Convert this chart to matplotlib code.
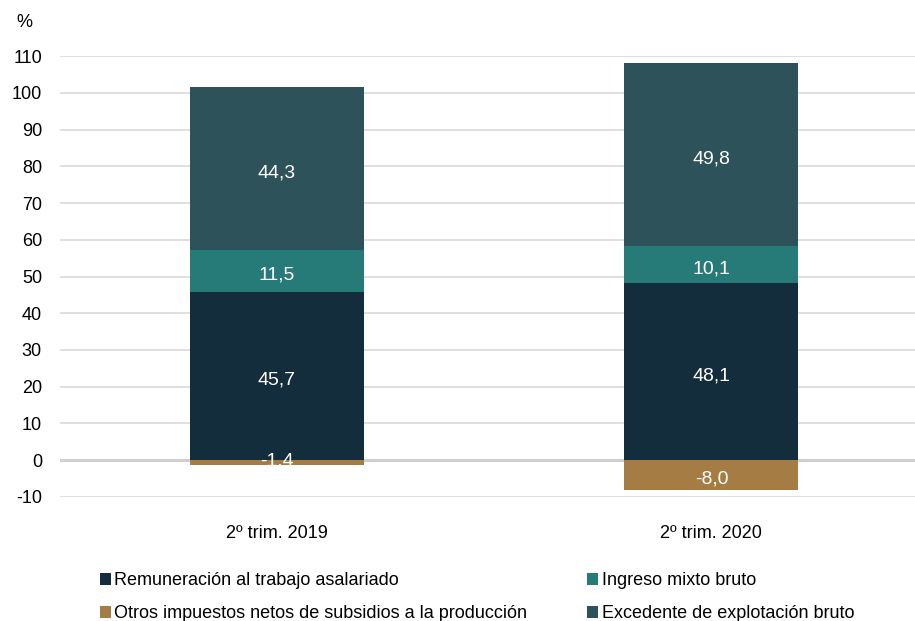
import matplotlib.pyplot as plt
import numpy as np

plt.rcParams['font.family'] = ['Liberation Sans', 'DejaVu Sans']

categories = ['2º trim. 2019', '2º trim. 2020']
remuneracion = [45.7, 48.1]
ingreso_mixto = [11.5, 10.1]
otros_impuestos = [-1.4, -8.0]
excedente = [44.3, 49.8]
yticks = list(range(-10, 111, 10))

c_rem = '#132d3c'
c_ing = '#267a78'
c_otr = '#a67c45'
c_exc = '#2d525a'

fig = plt.figure(figsize=(9.15, 6.21), dpi=100)
ax = fig.add_axes([0.0656, 0.1997, 0.96, 0.7101])

x = np.arange(len(categories))
w = 0.40

rem = np.array(remuneracion)
ing = np.array(ingreso_mixto)
exc = np.array(excedente)
otr = np.array(otros_impuestos)

b_rem = ax.bar(x, rem, w, color=c_rem, zorder=2, label='Remuneración al trabajo asalariado')
b_ing = ax.bar(x, ing, w, bottom=rem, color=c_ing, zorder=2, label='Ingreso mixto bruto')
b_exc = ax.bar(x, exc, w, bottom=rem + ing, color=c_exc, zorder=2, label='Excedente de explotación bruto')
b_otr = ax.bar(x, otr, w, color=c_otr, zorder=2, label='Otros impuestos netos de subsidios a la producción')

def fmt(v):
    return f'{v:.1f}'.replace('.', ',')

def label(xv, yv, v):
    # tiny segments: label sits on the zero line like the original
    dy = -3 if abs(v) > 2 else 1
    ax.annotate(fmt(v), (xv, yv), xytext=(0, dy), textcoords='offset points',
                ha='center', va='center', color='white', fontsize=14, zorder=4)

for i in range(len(x)):
    label(x[i], rem[i] / 2, rem[i])
    label(x[i], rem[i] + ing[i] / 2, ing[i])
    label(x[i], rem[i] + ing[i] + exc[i] / 2, exc[i])
    label(x[i], otr[i] / 2, otr[i])

ax.set_ylim(-10, 110)
ax.set_xlim(-0.498, 1.522)
ax.set_yticks(yticks)
ax.set_yticklabels([str(t) for t in yticks], fontsize=13)
ax.set_xticks(x)
ax.set_xticklabels(categories, fontsize=13)
ax.tick_params(axis='both', length=0)
ax.tick_params(axis='x', pad=20)
ax.tick_params(axis='y', pad=13)
ax.grid(axis='y', color='#d9d9d9', linewidth=1.2, zorder=0)
ax.set_axisbelow(True)
ax.axhline(0, color='#d0d0d0', linewidth=2.2, zorder=1)
for s in ax.spines.values():
    s.set_visible(False)

fig.text(0.027, 0.964, '%', fontsize=13, ha='center', va='center')

handles = [b_rem, b_otr, b_ing, b_exc]
labels = [h.get_label() for h in handles]
fig.legend(handles, labels, ncol=2, loc='lower left', bbox_to_anchor=(0.091, -0.028),
           frameon=False, fontsize=13, handlelength=0.62, handleheight=0.62,
           handletextpad=0.2, columnspacing=3.3, labelspacing=0.88)

plt.savefig('out.png', dpi=100)
plt.close()
